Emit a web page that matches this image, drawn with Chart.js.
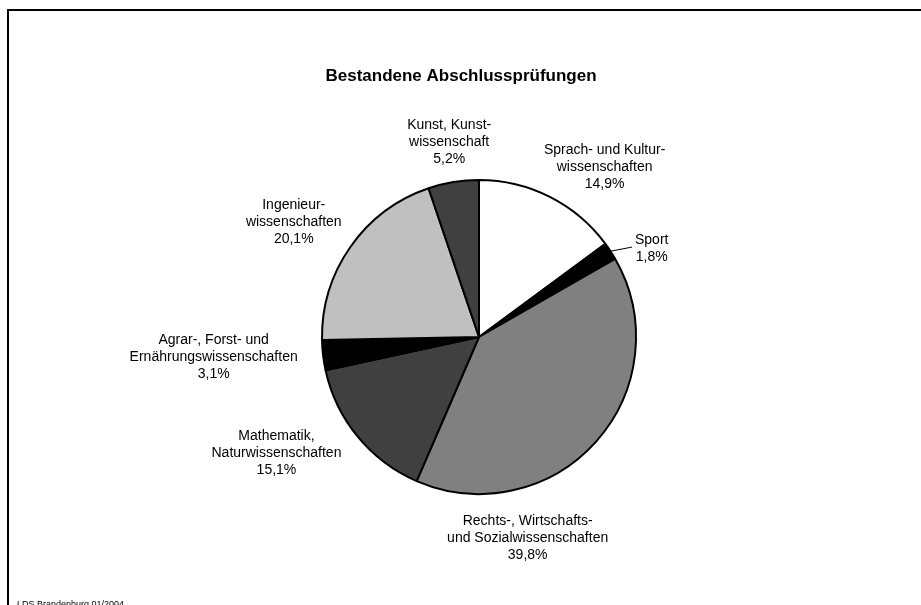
<!DOCTYPE html>
<html>
<head>
<meta charset="utf-8">
<title>Bestandene Abschlussprüfungen</title>
<script src="https://cdn.jsdelivr.net/npm/chart.js@4"></script>
<style>
  html, body { margin: 0; padding: 0; background: #fff; }
  canvas { display: block; }
</style>
</head>
<body>
<canvas id="pieChart" width="921" height="605"></canvas>
<script>
// Data, clockwise from 12 o'clock
const categories = [
  ['Sprach- und Kultur-', 'wissenschaften'],
  ['Sport'],
  ['Rechts-, Wirtschafts-', 'und Sozialwissenschaften'],
  ['Mathematik,', 'Naturwissenschaften'],
  ['Agrar-, Forst- und', 'Ernährungswissenschaften'],
  ['Ingenieur-', 'wissenschaften'],
  ['Kunst, Kunst-', 'wissenschaft']
];
const shares = [14.9, 1.8, 39.8, 15.1, 3.1, 20.1, 5.2];
const sliceColors = ['#ffffff', '#000000', '#808080', '#404040', '#000000', '#c0c0c0', '#404040'];

const titleText = 'Bestandene Abschlussprüfungen';
const sourceText = 'LDS Brandenburg 01/2004';

// label block centres, in units of the pie radius from the pie centre
const labelPlacement = [
  [0.80, -1.08],
  [1.10, -0.56],
  [0.31, 1.28],
  [-1.29, 0.74],
  [-1.69, 0.13],
  [-1.18, -0.73],
  [-0.19, -1.24]
];
const leaderLines = [false, true, false, false, false, false, false];

const FONT = "'Liberation Sans', Arial, sans-serif";

function pct(v) {
  return v.toFixed(1).replace('.', ',') + '%';
}

const decorations = {
  id: 'decorations',
  afterDraw(chart) {
    const ctx = chart.ctx;
    ctx.save();

    // frame
    ctx.strokeStyle = '#000';
    ctx.lineWidth = 2;
    ctx.strokeRect(8, 10, 1000, 1000);

    // title
    ctx.fillStyle = '#000';
    ctx.font = 'bold 17px ' + FONT;
    ctx.textAlign = 'center';
    ctx.textBaseline = 'middle';
    ctx.fillText(titleText, 461, 76);

    // source note
    ctx.font = '9px ' + FONT;
    ctx.textAlign = 'left';
    ctx.textBaseline = 'top';
    ctx.fillText(sourceText, 17, 600);

    // slice labels
    const arcs = chart.getDatasetMeta(0).data;
    ctx.font = '14px ' + FONT;
    ctx.textAlign = 'center';
    ctx.textBaseline = 'middle';
    const lh = 17;
    arcs.forEach((arc, i) => {
      const r = arc.outerRadius;
      const lines = categories[i].concat([pct(shares[i])]);
      const cx = arc.x + labelPlacement[i][0] * r;
      const cy = arc.y + labelPlacement[i][1] * r;
      const top = cy - (lines.length - 1) * lh / 2;
      lines.forEach((t, k) => ctx.fillText(t, cx, top + k * lh));

      if (leaderLines[i]) {
        const mid = (arc.startAngle + arc.endAngle) / 2;
        const w = Math.max(...lines.map(t => ctx.measureText(t).width));
        ctx.beginPath();
        ctx.lineWidth = 1;
        ctx.moveTo(arc.x + Math.cos(mid) * r, arc.y + Math.sin(mid) * r);
        ctx.lineTo(cx - w / 2 - 3, cy - 2);
        ctx.stroke();
      }
    });
    ctx.restore();
  }
};

const ctx = document.getElementById('pieChart').getContext('2d');
const pieChart = new Chart(ctx, {
  type: 'pie',
  data: {
    labels: categories.map(c => c.join(' ')),
    datasets: [{
      data: shares,
      backgroundColor: sliceColors,
      borderColor: '#000000',
      borderWidth: 2
    }]
  },
  options: {
    responsive: false,
    animation: false,
    events: [],
    layout: {
      padding: { top: 179, bottom: 110, left: 321, right: 284 }
    },
    plugins: {
      legend: { display: false },
      title: { display: false },
      tooltip: { enabled: false }
    }
  },
  plugins: [decorations]
});
</script>
</body>
</html>
